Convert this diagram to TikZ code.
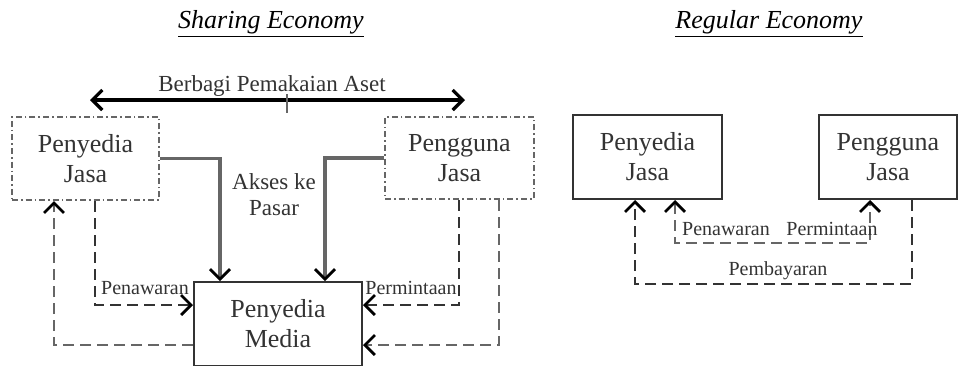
\documentclass[tikz,border=0pt]{standalone}
\usepackage{fontspec}
\setmainfont{Liberation Serif}
\usetikzlibrary{arrows.meta,positioning,calc}
\definecolor{inkgray}{gray}{0.2}
\definecolor{linegray}{gray}{0.4}

\begin{document}
\begin{tikzpicture}[x=0.5pt,y=-0.5pt,
	font=\fontsize{13}{15}\selectfont,
	box/.style={draw=inkgray,line width=1pt,align=center,text=inkgray,inner sep=2pt},
	dashdotbox/.style={box,draw=linegray,dash pattern=on 3pt off 1.5pt on 0.8pt off 1.5pt},
	tip/.style={-{Straight Barb[length=5pt,width=10pt,color=black,line width=1.4pt]}},
	solidarr/.style={tip,draw=linegray,line width=1.7pt},
	dasharr/.style={tip,draw=inkgray,line width=1.2pt,dash pattern=on 5.5pt off 3pt},
	grayarr/.style={tip,draw=linegray,line width=1.2pt,dash pattern=on 5.5pt off 3pt},
	small/.style={font=\fontsize{10}{12}\selectfont,text=inkgray,inner sep=1pt}]
	\useasboundingbox (0,0) rectangle (959,365);

	% Titles.
	\node (tsharing) at (271,24) {\fontsize{13}{15}\selectfont\underline{\textit{Sharing Economy}}};
	\node (tregular) at (769,24) {\fontsize{13}{15}\selectfont\underline{\textit{Regular Economy}}};

	% Sharing economy.
	\node[dashdotbox,minimum width=73.5pt,minimum height=41.5pt] (pjL) at (85.5,158.5) {Penyedia\\Jasa};
	\node[dashdotbox,minimum width=74.5pt,minimum height=41pt] (pgL) at (459.5,158) {Pengguna\\Jasa};
	\node[box,minimum width=84pt,minimum height=42pt] (media) at (278,324) {Penyedia\\Media};

	\coordinate (asetL) at (90,100);
	\coordinate (asetR) at (465,100);
	\draw[{Straight Barb[length=5pt,width=10pt]}-{Straight Barb[length=5pt,width=10pt]},line width=1.6pt] (asetL) -- (asetR);
	\node[text=inkgray,inner sep=1pt,font=\fontsize{11.5}{13}\selectfont] (aset) at (272,86) {Berbagi Pemakaian Aset};
	\coordinate (tickA) at (287,94);
	\coordinate (tickB) at (287,113);
	\draw[linegray,line width=0.6pt] (tickA) -- (tickB);

	\draw[solidarr] (pjL.east) -| ($(media.north)+(-58,0)$);
	\draw[solidarr] (pgL.west) -| ($(media.north)+(47,0)$);
	\node[text=inkgray,align=center,font=\fontsize{11.5}{13}\selectfont] (akses) at (274,195) {Akses ke\\Pasar};

	\draw[dasharr] ($(pjL.south)+(9.5,0)$) |- ($(media.west)+(0,-19)$);
	\node[small] (penawL) at (145,288) {Penawaran};
	\draw[dasharr] ($(pgL.south)+(-0.5,0)$) |- ($(media.east)+(0,-19)$);
	\node[small] (perminL) at (411,288) {Permintaan};

	\draw[grayarr] ($(media.west)+(0,21)$) -| ($(pjL.south)+(-31.5,0)$);
	\draw[grayarr] ($(pgL.south)+(39.5,0)$) |- ($(media.east)+(0,21)$);

	% Regular economy.
	\node[box,minimum width=74.5pt,minimum height=42pt] (pjR) at (647.5,157) {Penyedia\\Jasa};
	\node[box,minimum width=69pt,minimum height=42pt] (pgR) at (888,157) {Pengguna\\Jasa};

	\draw[dasharr] ($(pgR.south)+(24,0)$) -- ++(0,84) -| ($(pjR.south)+(-12.5,0)$);
	\node[small] (bayar) at (778,271) {Pembayaran};
	\draw[grayarr,{Straight Barb[length=5pt,width=10pt,color=black,line width=1.4pt]}-{Straight Barb[length=5pt,width=10pt,color=black,line width=1.4pt]}]
		($(pjR.south)+(27.5,0)$) -- ++(0,43) -| ($(pgR.south)+(-18,0)$);
	\node[small] (penawR) at (726,229) {Penawaran};
	\node[small] (perminR) at (832,229) {Permintaan};
\end{tikzpicture}
\end{document}
